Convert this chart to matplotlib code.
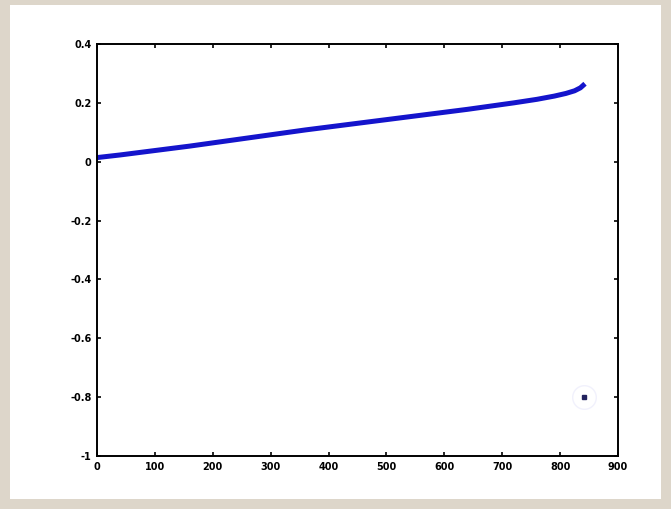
import matplotlib
matplotlib.use("Agg")
import matplotlib.pyplot as plt
from matplotlib.patches import Rectangle

# sorted curve, values
xs = [0, 40, 80, 120, 160, 200, 240, 280, 320, 360, 400, 440, 480, 520,
      560, 600, 640, 680, 720, 760, 790, 810, 825, 835, 843]
ys = [0.014, 0.023, 0.033, 0.043, 0.053, 0.064, 0.075, 0.086, 0.097, 0.108,
      0.118, 0.128, 0.138, 0.148, 0.158, 0.168, 0.178, 0.189, 0.200, 0.212,
      0.223, 0.232, 0.241, 0.251, 0.265]

# lone point at the bottom right
pt_x = [841]
pt_y = [-0.8]

xticks = [0, 100, 200, 300, 400, 500, 600, 700, 800, 900]
xlabels = ["0", "100", "200", "300", "400", "500", "600", "700", "800", "900"]
yticks = [-1, -0.8, -0.6, -0.4, -0.2, 0, 0.2, 0.4]
ylabels = ["-1", "-0.8", "-0.6", "-0.4", "-0.2", "0", "0.2", "0.4"]

fig = plt.figure(figsize=(6.71, 5.09), dpi=100)
fig.patch.set_facecolor("#ddd6ca")
# white panel behind the plot
fig.patches.append(Rectangle((10/671, 10/509), 651/671, 494/509,
                             transform=fig.transFigure, facecolor="white",
                             edgecolor="none", zorder=-10))

ax = fig.add_axes([97/671, 53/509, 521/671, 412/509])
ax.set_zorder(5)
ax.set_facecolor("white")

ax.plot(xs, ys, color="#1414cc", linewidth=3.6, solid_capstyle="butt")
ax.plot(pt_x, pt_y, "o", markersize=17, markerfacecolor="none",
        markeredgecolor="#f1f1fc", markeredgewidth=1.0)
ax.plot(pt_x, pt_y, "s", markersize=3.2, color="#23235e")

ax.set_xlim(0, 900)
ax.set_ylim(-1, 0.4)
ax.set_xticks(xticks, xlabels)
ax.set_yticks(yticks, ylabels)
ax.tick_params(direction="in", length=3, width=1.2, top=True, right=True,
               labelsize=7, pad=4)
for lab in ax.get_xticklabels() + ax.get_yticklabels():
    lab.set_fontweight("bold")
for sp in ax.spines.values():
    sp.set_linewidth(1.4)

plt.savefig("out.png", dpi=100)
